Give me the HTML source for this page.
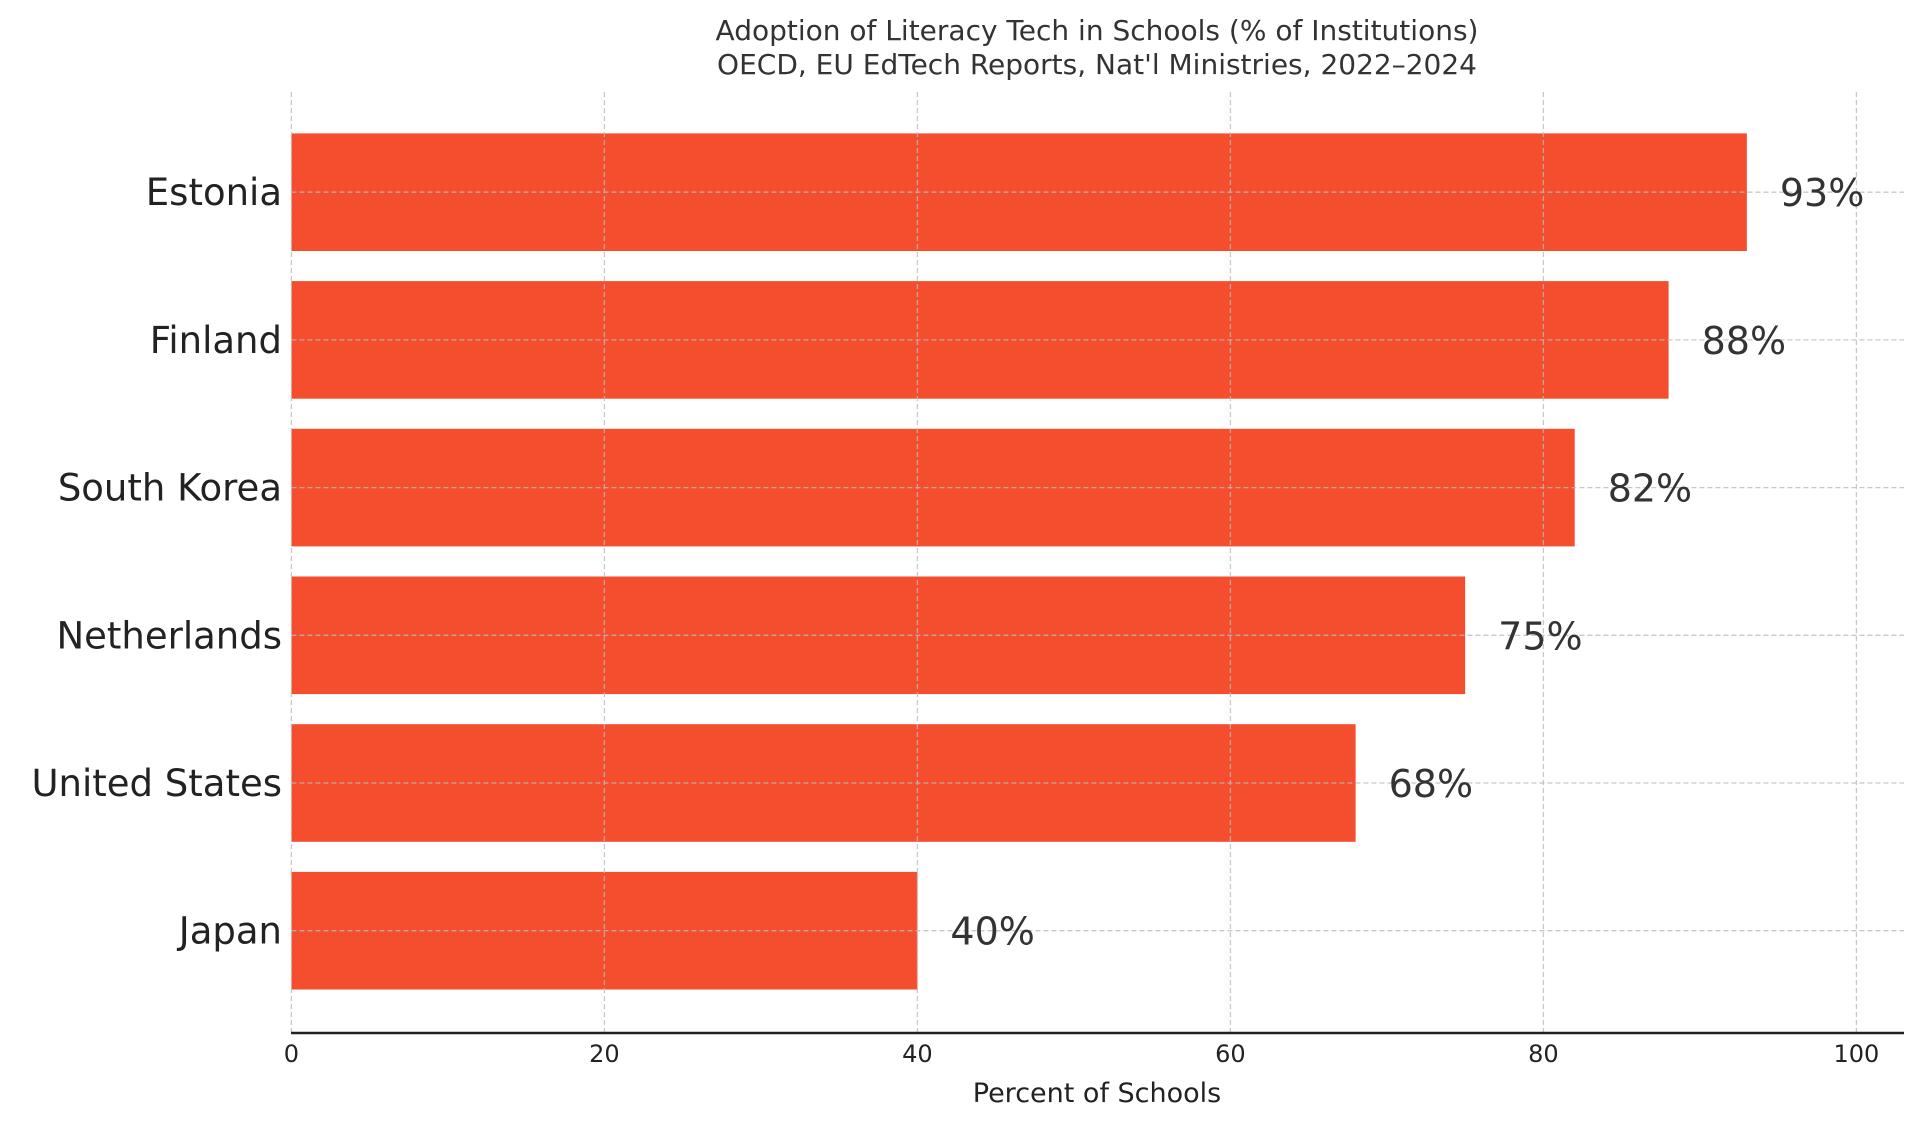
<!DOCTYPE html>
<html><head><meta charset="utf-8"><style>
body{margin:0;background:#fff;}
svg{display:block;font-family:"DejaVu Sans","Liberation Sans",sans-serif;}
</style></head><body>
<svg id="chart" width="1920" height="1128" viewBox="0 0 1920 1128" xmlns="http://www.w3.org/2000/svg">
<text x="1097" y="40" font-size="28" fill="#333" text-anchor="middle">Adoption of Literacy Tech in Schools (% of Institutions)</text>
<text x="1097" y="74" font-size="28" fill="#333" text-anchor="middle">OECD, EU EdTech Reports, Nat'l Ministries, 2022–2024</text>
<g id="bars"></g>
<g id="grid"></g>
<g id="labels"></g>
<line x1="291" y1="1033" x2="1904" y2="1033" stroke="#222" stroke-width="2.5"/>
<text x="1097" y="1102" font-size="27" fill="#222" text-anchor="middle">Percent of Schools</text>
</svg>
<script>
const categories = ["Estonia","Finland","South Korea","Netherlands","United States","Japan"];
const values = [93,88,82,75,68,40];
const valueLabels = ["93%","88%","82%","75%","68%","40%"];
const xTicks = [0,20,40,60,80,100];
const ns="http://www.w3.org/2000/svg";
const x0=291.4, pxPerUnit=15.65;
function xScale(v){return x0+v*pxPerUnit;}
function yScale(i){return 192.2+i*147.7;}
const barH=117.6;
function mk(tag,attrs,parent,txt){const e=document.createElementNS(ns,tag);for(const k in attrs)e.setAttribute(k,attrs[k]);if(txt!==undefined)e.textContent=txt;parent.appendChild(e);return e;}
const bars=document.getElementById('bars'),grid=document.getElementById('grid'),labels=document.getElementById('labels');
categories.forEach((c,i)=>{
  const yc=yScale(i);
  const r=mk('rect',{x:xScale(0),y:yc-barH/2,width:xScale(values[i])-xScale(0),height:barH,fill:'#f44e2e'},bars);
  
  
  const g=mk('line',{x1:x0,x2:1904,y1:yc,y2:yc,stroke:'#bbb','stroke-width':1.3,'stroke-dasharray':'5,3','opacity':0.8},grid);
  
  
  const t=mk('text',{x:282,y:yc+13,'font-size':37,fill:'#222','text-anchor':'end'},labels,c);
  
  
  const v=mk('text',{x:xScale(values[i])+33,y:yc+14,'font-size':38,fill:'#333'},labels,valueLabels[i]);
  
  
});
xTicks.forEach(t=>{
  const x=xScale(t);
  const g=mk('line',{x1:x,x2:x,y1:92,y2:1032,stroke:'#bbb','stroke-width':1.3,'stroke-dasharray':'5,3','opacity':0.8},grid);
  
  
  const l=mk('text',{x:x,y:1062,'font-size':24,fill:'#222','text-anchor':'middle'},labels,String(t));
  
  
});
</script>
</body></html>
